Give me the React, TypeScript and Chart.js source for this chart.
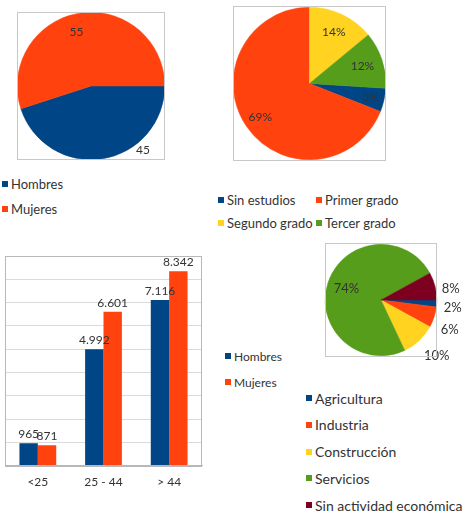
import React, { useEffect, useRef } from 'react';
import { Chart, registerables } from 'chart.js';

Chart.register(...registerables);

// ---------- data ----------
const sexLabels = ['Hombres', 'Mujeres'];
const sexValues = [45, 55];

const eduLabels = ['Sin estudios', 'Primer grado', 'Segundo grado', 'Tercer grado'];
const eduValues = [5, 69, 14, 12];

const ageLabels = ['<25', '25 - 44', '> 44'];
const menByAge = [965, 4992, 7116];
const womenByAge = [871, 6601, 8342];

const sectorLabels = ['Agricultura', 'Industria', 'Construcción', 'Servicios', 'Sin actividad económica'];
const sectorValues = [2, 6, 10, 74, 8];

// ---------- style ----------
const BLUE = '#004586';
const ORANGE = '#ff420e';
const YELLOW = '#ffd320';
const GREEN = '#579d1c';
const MAROON = '#7e0021';
const FONT = 'Lato, "Liberation Sans", sans-serif';
const TEXT = '#333333';
const FRAME = '#c8c8c8';

const sexColors = [BLUE, ORANGE];
const eduColors = [BLUE, ORANGE, YELLOW, GREEN];
const sectorColors = [BLUE, ORANGE, YELLOW, GREEN, MAROON];

const thousands = (v: number) => String(v).replace(/\B(?=(\d{3})+(?!\d))/g, '.');

// ---------- plugins (options captured in closures) ----------
type Place = { r: number; add?: number; shift?: number; outside?: boolean; dy?: number };

function makePieLabelPlugin(opts: { font: string; color: string; frame: string; format: (v: number) => string; place: Place[] }) {
  return {
    id: 'pieLabels',
    afterDatasetsDraw(chart: any) {
      const ctx = chart.ctx;
      const meta = chart.getDatasetMeta(0);
      const data = chart.data.datasets[0].data;
      ctx.save();
      ctx.font = opts.font;
      ctx.fillStyle = opts.color;
      meta.data.forEach((arc: any, i: number) => {
        const p = arc.getProps(['x', 'y', 'startAngle', 'endAngle', 'outerRadius'], true);
        const pl = opts.place[i];
        const mid = (p.startAngle + p.endAngle) / 2 + ((pl.shift || 0) * Math.PI) / 180;
        const r = p.outerRadius * pl.r + (pl.add || 0);
        const cx = Math.cos(mid);
        const sy = Math.sin(mid);
        const lx = p.x + cx * r;
        const ly = p.y + sy * r + (pl.dy || 0);
        if (pl.outside) {
          ctx.textAlign = cx >= 0 ? 'left' : 'right';
          ctx.textBaseline = sy > 0.25 ? 'top' : sy < -0.5 ? 'bottom' : 'middle';
        } else {
          ctx.textAlign = 'center';
          ctx.textBaseline = 'middle';
        }
        ctx.fillText(opts.format(data[i]), lx, ly);
      });
      ctx.restore();
    },
    afterDraw(chart: any) {
      const a = chart.chartArea;
      const ctx = chart.ctx;
      ctx.save();
      ctx.strokeStyle = opts.frame;
      ctx.lineWidth = 1;
      ctx.strokeRect(Math.round(a.left) + 0.5, Math.round(a.top) + 0.5, Math.round(a.right - a.left) - 1, Math.round(a.bottom - a.top) - 1);
      ctx.restore();
    },
  };
}

const barLabelPlugin = {
  id: 'barLabels',
  afterDatasetsDraw(chart: any) {
    const ctx = chart.ctx;
    ctx.save();
    ctx.font = `12px ${FONT}`;
    ctx.fillStyle = TEXT;
    ctx.textAlign = 'center';
    ctx.textBaseline = 'bottom';
    chart.data.datasets.forEach((ds: any, di: number) => {
      const meta = chart.getDatasetMeta(di);
      meta.data.forEach((bar: any, i: number) => {
        const p = bar.getProps(['x', 'y'], true);
        ctx.fillText(thousands(ds.data[i]), p.x, p.y - 3);
      });
    });
    ctx.restore();
  },
  afterDraw(chart: any) {
    const a = chart.chartArea;
    const ctx = chart.ctx;
    ctx.save();
    ctx.strokeStyle = '#b8b8b8';
    ctx.lineWidth = 1;
    ctx.strokeRect(Math.round(a.left) + 0.5, Math.round(a.top) + 0.5, Math.round(a.right - a.left) - 1, Math.round(a.bottom - a.top));
    ctx.restore();
  },
};

// ---------- configs ----------
const sum = (a: number[]) => a.reduce((s, v) => s + v, 0);

const pieConfig = (labels: string[], values: number[], colors: string[], rotation: number, padding: any, plugin: any) => ({
  type: 'pie',
  data: {
    labels,
    datasets: [
      {
        data: values,
        backgroundColor: colors,
        borderColor: colors,
        borderWidth: 0.5,
      },
    ],
  },
  options: {
    responsive: false,
    maintainAspectRatio: false,
    animation: false,
    rotation,
    layout: { padding },
    plugins: {
      legend: { display: false },
      tooltip: { enabled: false },
    },
  },
  plugins: [plugin],
});

const pct = (v: number) => `${v}%`;

const sexConfig = pieConfig(
  sexLabels,
  sexValues,
  sexColors,
  90,
  0,
  makePieLabelPlugin({
    font: `12px ${FONT}`,
    color: TEXT,
    frame: FRAME,
    format: (v: number) => String(v),
    place: [{ r: 1.12, shift: -30 }, { r: 0.76, shift: -6 }],
  })
);

const eduConfig = pieConfig(
  eduLabels,
  eduValues,
  eduColors,
  (360 * (eduValues[2] + eduValues[3])) / sum(eduValues),
  0,
  makePieLabelPlugin({
    font: `12px ${FONT}`,
    color: TEXT,
    frame: FRAME,
    format: pct,
    place: [{ r: 0.82 }, { r: 0.78 }, { r: 0.75 }, { r: 0.73 }],
  })
);

const sectorConfig = pieConfig(
  sectorLabels,
  sectorValues,
  sectorColors,
  90,
  { left: 5, top: 5, right: 33, bottom: 9 },
  makePieLabelPlugin({
    font: `13px ${FONT}`,
    color: TEXT,
    frame: FRAME,
    format: pct,
    place: [
      { r: 1, add: 7, outside: true, dy: 4 },
      { r: 1, add: 7, outside: true, dy: 4 },
      { r: 1, add: 7, outside: true, dy: 4 },
      { r: 0.65 },
      { r: 1, add: 7, outside: true, dy: 4 },
    ],
  })
);

const barConfig = {
  type: 'bar',
  data: {
    labels: ageLabels,
    datasets: [
      { label: 'Hombres', data: menByAge, backgroundColor: BLUE, categoryPercentage: 0.56, barPercentage: 1 },
      { label: 'Mujeres', data: womenByAge, backgroundColor: ORANGE, categoryPercentage: 0.56, barPercentage: 1 },
    ],
  },
  options: {
    responsive: false,
    maintainAspectRatio: false,
    animation: false,
    layout: { padding: { left: 5, top: 6, right: 8, bottom: 0 } },
    plugins: { legend: { display: false }, tooltip: { enabled: false } },
    scales: {
      x: {
        grid: { display: false, drawTicks: false },
        border: { display: true, color: '#b8b8b8' },
        ticks: { color: TEXT, font: { family: FONT, size: 12 }, padding: 9, maxRotation: 0 },
      },
      y: {
        min: 0,
        max: 9000,
        ticks: { display: false, stepSize: 1000 },
        grid: { color: '#dadada', drawTicks: false },
        border: { display: false },
      },
    },
  },
  plugins: [barLabelPlugin],
};

// ---------- components ----------
function ChartCanvas({ left, top, width, height, config }: any) {
  const ref = useRef<HTMLCanvasElement>(null);
  useEffect(() => {
    const chart = new Chart(ref.current as HTMLCanvasElement, config as any);
    return () => chart.destroy();
  }, [config]);
  return (
    <canvas
      ref={ref}
      width={width}
      height={height}
      style={{ position: 'absolute', left, top, width, height }}
    />
  );
}

function LegendItem({ x, y, color, label, size }: any) {
  return (
    <div
      style={{
        position: 'absolute',
        left: x,
        top: y - 10,
        height: 20,
        display: 'flex',
        alignItems: 'center',
        whiteSpace: 'nowrap',
        fontFamily: FONT,
        fontSize: size,
        color: TEXT,
      }}
    >
      <span style={{ display: 'inline-block', width: 6, height: 6, background: color, marginRight: 3 }} />
      <span>{label}</span>
    </div>
  );
}

export default function App() {
  return (
    <div style={{ position: 'absolute', left: 0, top: 0, width: 470, height: 518, background: '#fff', overflow: 'hidden' }}>
      <ChartCanvas left={17} top={12} width={148} height={148} config={sexConfig} />
      <ChartCanvas left={233} top={6} width={153} height={155} config={eduConfig} />
      <ChartCanvas left={320} top={238} width={150} height={128} config={sectorConfig} />
      <ChartCanvas left={0} top={250} width={210} height={248} config={barConfig} />

      {sexLabels.map((l, i) => (
        <LegendItem key={l} x={2} y={184 + i * 25} color={sexColors[i]} label={l} size={13} />
      ))}

      {eduLabels.map((l, i) => (
        <LegendItem
          key={l}
          x={i % 2 === 0 ? 218 : 316}
          y={200 + Math.floor(i / 2) * 23}
          color={eduColors[i]}
          label={l}
          size={13}
        />
      ))}

      {['Hombres', 'Mujeres'].map((l, i) => (
        <LegendItem key={'b' + l} x={225} y={356 + i * 26} color={[BLUE, ORANGE][i]} label={l} size={12} />
      ))}

      {sectorLabels.map((l, i) => (
        <LegendItem key={l} x={306} y={398 + i * 26.8} color={sectorColors[i]} label={l} size={14} />
      ))}
    </div>
  );
}
